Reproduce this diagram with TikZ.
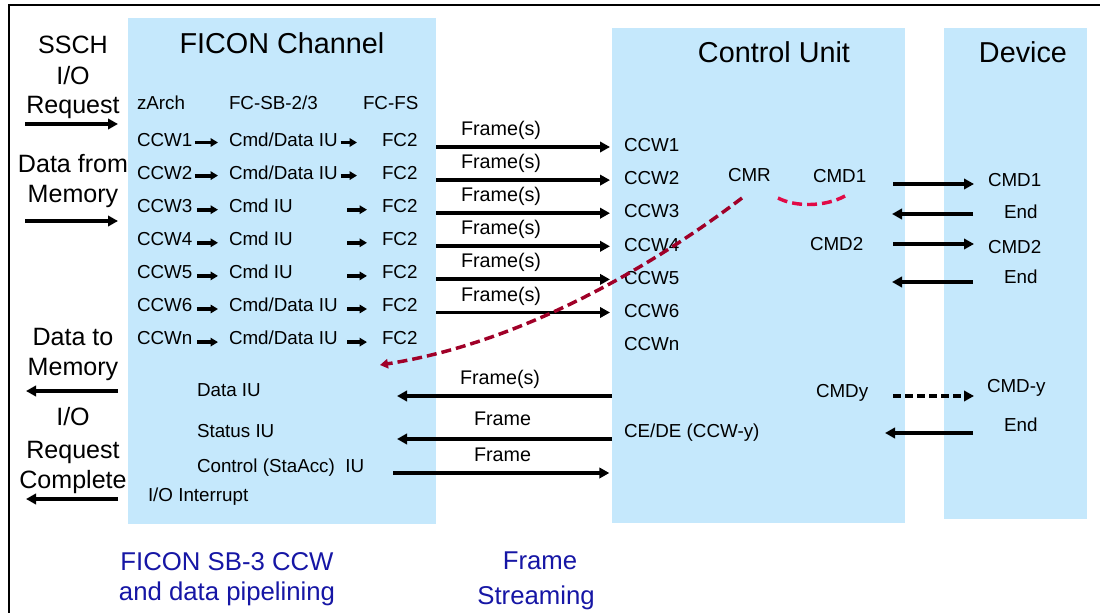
\documentclass[tikz,border=0pt]{standalone}
\usepackage{fontspec}
\setmainfont{Liberation Sans}
\usetikzlibrary{arrows.meta}
\definecolor{boxblue}{RGB}{197,232,252}
\definecolor{labelblue}{RGB}{22,22,165}
\definecolor{darkred}{RGB}{160,0,40}
\definecolor{brightred}{RGB}{225,10,70}
\def\pu{0.75pt}
\begin{document}
\begin{tikzpicture}[x=0.75pt,y=-0.75pt,
  box/.style={fill=boxblue, draw=none, anchor=north west, inner sep=0, outer sep=0},
  tx/.style={inner sep=0, outer sep=0, text depth=0pt},
  sm/.style={tx, text height=10.1pt, font=\fontsize{14.1}{16}\selectfont},
  smw/.style={sm, anchor=west},
  fr/.style={tx, anchor=west, text height=10.6pt, font=\fontsize{14.8}{17}\selectfont},
  lg/.style={tx, text height=13.46pt, font=\fontsize{18.8}{22}\selectfont},
  ttl/.style={tx, text height=15.47pt, font=\fontsize{21.6}{25}\selectfont},
  blu/.style={tx, text height=13.8pt, font=\fontsize{19.3}{22}\selectfont, text=labelblue},
  arr/.style={line width=2.9pt, -{Triangle[length=7.5pt,width=7.8pt]}},
  sarr/.style={line width=2.9pt, -{Triangle[length=5.5pt,width=6.2pt]}},
  darr/.style={arr, dash pattern=on 6pt off 3pt},
  redcurve/.style={draw=darkred, line width=2.6pt, dash pattern=on 7.5pt off 3.75pt, -{Triangle[length=6pt,width=7pt]}},
  redarc/.style={draw=brightred, line width=2.6pt, dash pattern=on 7.5pt off 3.75pt},
]
\useasboundingbox (0,0) rectangle (1100,613);
\fill[white] (0,0) rectangle (1100,613);

% boxes
\node[box, minimum width=308*\pu, minimum height=506*\pu] (ficon) at (128,18) {};
\node[box, minimum width=293*\pu, minimum height=495*\pu] (cu) at (612,28) {};
\node[box, minimum width=143*\pu, minimum height=491*\pu] (dev) at (944,28) {};

% frame lines
\coordinate (bl) at (9,613);
\coordinate (tl) at (9,5);
\coordinate (tr) at (1100,5);
\draw[line width=1pt] (bl) -- (tl) -- (tr);

% titles
\node[ttl] (t1) at (282,43) {FICON Channel};
\node[ttl] (t2) at (774,52) {Control Unit};
\node[ttl] (t3) at (1023,52.5) {Device};

% left column
\node[lg] (l1) at (73,44.7) {SSCH};
\node[lg] (l2) at (73,75.5) {I/O};
\node[lg] (l3) at (73,105) {Request};
\node[lg] (l4) at (73,163.5) {Data from};
\node[lg] (l5) at (73,194) {Memory};
\node[lg] (l6) at (73,336.5) {Data to};
\node[lg] (l7) at (73,367) {Memory};
\node[lg] (l8) at (73,416.5) {I/O};
\node[lg] (l9) at (73,450) {Request};
\node[lg] (l10) at (73,480) {Complete};

\coordinate (la1) at (25,124);  \coordinate (lb1) at (118,124);
\coordinate (la2) at (25,221);  \coordinate (lb2) at (118,221);
\coordinate (la3) at (118,391); \coordinate (lb3) at (26,391);
\coordinate (la4) at (118,499); \coordinate (lb4) at (26,499);
\draw[arr] (la1) -- (lb1);
\draw[arr] (la2) -- (lb2);
\draw[arr] (la3) -- (lb3);
\draw[arr] (la4) -- (lb4);

% FICON headers
\node[smw] (h1) at (137,102.5) {zArch};
\node[smw] (h2) at (229,102.5) {FC-SB-2/3};
\node[smw] (h3) at (363,102.5) {FC-FS};

% FICON rows
\node[smw] (c1) at (137,139.5) {CCW1};
\node[smw] (m1) at (229,139.5) {Cmd/Data IU};
\node[smw] (f1) at (382,139.5) {FC2};
\node[smw] (c2) at (137,172.6) {CCW2};
\node[smw] (m2) at (229,172.6) {Cmd/Data IU};
\node[smw] (f2) at (382,172.6) {FC2};
\node[smw] (c3) at (137,205.7) {CCW3};
\node[smw] (m3) at (229,205.7) {Cmd IU};
\node[smw] (f3) at (382,205.7) {FC2};
\node[smw] (c4) at (137,238.8) {CCW4};
\node[smw] (m4) at (229,238.8) {Cmd IU};
\node[smw] (f4) at (382,238.8) {FC2};
\node[smw] (c5) at (137,271.9) {CCW5};
\node[smw] (m5) at (229,271.9) {Cmd IU};
\node[smw] (f5) at (382,271.9) {FC2};
\node[smw] (c6) at (137,305) {CCW6};
\node[smw] (m6) at (229,305) {Cmd/Data IU};
\node[smw] (f6) at (382,305) {FC2};
\node[smw] (c7) at (137,338.1) {CCWn};
\node[smw] (m7) at (229,338.1) {Cmd/Data IU};
\node[smw] (f7) at (382,338.1) {FC2};

\foreach \i in {1,2} {
  \draw[sarr] ([shift={(2.5,3)}]c\i.east) -- ([shift={(-11,3)}]m\i.west);
  \draw[sarr] ([shift={(3,3)}]m\i.east) -- ([shift={(-25,3)}]f\i.west);
}
\foreach \i in {3,4,5,6,7} {
  \draw[sarr] ([shift={(5,4)}]c\i.east) -- ([shift={(-11,4)}]m\i.west);
  \draw[sarr] ([shift={(-35,4)}]f\i.west) -- ([shift={(-15,4)}]f\i.west);
}

% Frame(s) arrows to control unit
\foreach \i in {0,...,5} {
  \pgfmathsetmacro\yy{147+33.1*\i}
  \pgfmathsetmacro\ly{128.5+33.1*\i}
  \coordinate (fy\i) at (0,\yy);
  \node[fr] (fl\i) at (461,\ly) {Frame(s)};
  \draw[arr] (ficon.east |- fy\i) -- ([xshift=-1.5pt]cu.west |- fy\i);
}

% control unit CCWs
\foreach \i/\lab in {1/CCW1,2/CCW2,3/CCW3,4/CCW4,5/CCW5,6/CCW6,7/CCWn} {
  \pgfmathsetmacro\yy{145+33.1*(\i-1)}
  \node[smw] (u\i) at (624,\yy) {\lab};
}
\node[smw] (cmr) at (728,175) {CMR};
\node[smw] (cmd1) at (813,175.5) {CMD1};
\node[smw] (cmd2) at (810,244) {CMD2};
\node[smw] (cmdy) at (816,390.5) {CMDy};
\node[smw] (cede) at (624,430.5) {CE/DE (CCW-y)};

% device texts
\node[smw] (d1) at (988,179.5) {CMD1};
\node[smw] (d2) at (1004,211.5) {End};
\node[smw] (d3) at (988,246.5) {CMD2};
\node[smw] (d4) at (1004,277) {End};
\node[smw] (d5) at (987,386) {CMD-y};
\node[smw] (d6) at (1004,425) {End};

% CU <-> device arrows
\coordinate (ka1) at (893,184); \coordinate (kb1) at (974,184);
\coordinate (ka2) at (973,214); \coordinate (kb2) at (892,214);
\coordinate (ka3) at (893,244); \coordinate (kb3) at (974,244);
\coordinate (ka4) at (973,282); \coordinate (kb4) at (892,282);
\coordinate (ka5) at (893,396); \coordinate (kb5) at (974,396);
\coordinate (ka6) at (973,433); \coordinate (kb6) at (885,433);
\draw[arr] (ka1) -- (kb1);
\draw[arr] (ka2) -- (kb2);
\draw[arr] (ka3) -- (kb3);
\draw[arr] (ka4) -- (kb4);
\draw[darr] (ka5) -- (kb5);
\draw[arr] (ka6) -- (kb6);

% lower FICON texts
\node[smw] (iu1) at (197,390) {Data IU};
\node[smw] (iu2) at (197,431) {Status IU};
\node[smw] (iu3) at (197,466) {Control (StaAcc)\ \ IU};
\node[smw] (iu4) at (148,494.5) {I/O Interrupt};

\node[fr] (fb1) at (460,377.5) {Frame(s)};
\node[fr] (fb2) at (474,418.5) {Frame};
\node[fr] (fb3) at (474,454.5) {Frame};

\coordinate (ga1) at (0,396);
\coordinate (ga2) at (0,439);
\coordinate (ga3) at (0,473);
\coordinate (gt1) at (397,396);
\coordinate (gt2) at (397,439);
\coordinate (gs3) at (393,473);
\draw[arr] (cu.west |- ga1) -- (gt1);
\draw[arr] (cu.west |- ga2) -- (gt2);
\draw[arr] (gs3) -- ([xshift=-2pt]cu.west |- ga3);

% red dashed curves
\coordinate (rs) at (742,198);
\coordinate (re) at (380,365);
\draw[redcurve] (rs) .. controls (650,268) and (520,343) .. (re);
\coordinate (as) at (778,198);
\coordinate (ae) at (845,196);
\draw[redarc] (as) .. controls (795,207) and (825,207) .. (ae);

% bottom captions
\node[blu] (b1) at (227,561) {FICON SB-3 CCW};
\node[blu] (b2) at (227,591.5) {and data pipelining};
\node[blu] (b3) at (540,560) {Frame};
\node[blu] (b4) at (536,595) {Streaming};
\end{tikzpicture}
\end{document}
